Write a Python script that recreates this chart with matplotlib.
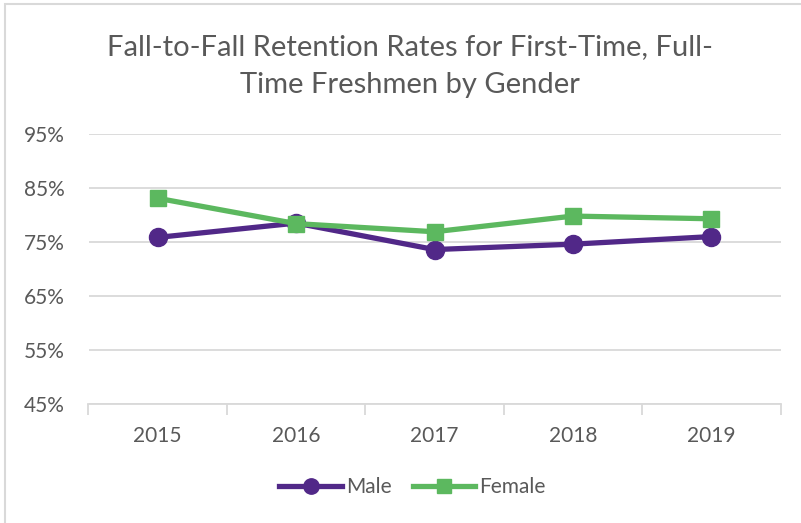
import matplotlib
matplotlib.use('Agg')
import matplotlib.pyplot as plt
from matplotlib.patches import Rectangle
from matplotlib.ticker import FixedLocator, FuncFormatter

years = ['2015', '2016', '2017', '2018', '2019']
male = [75.85, 78.5, 73.6, 74.6, 76.0]
female = [83.1, 78.4, 76.9, 79.8, 79.3]
y_ticks = [45, 55, 65, 75, 85, 95]

plt.rcParams['font.family'] = ['Lato', 'DejaVu Sans']
text_color = '#595959'

fig = plt.figure(figsize=(8.01, 5.23), dpi=100)
ax = fig.add_axes([88.5 / 801, 1 - 404 / 523, (780.5 - 88.5) / 801, 270 / 523])

# chart border
fig.patches.append(Rectangle((5 / 801, -0.1), 1.2, 1 - 4 / 523 + 0.1, transform=fig.transFigure,
                             fill=False, edgecolor='#d9d9d9', linewidth=1.5))

x = list(range(len(years)))
ax.plot(x, male, color='#512888', linewidth=3.8, marker='o', markersize=13, label='Male', zorder=3)
ax.plot(x, female, color='#5cb85f', linewidth=3.8, marker='s', markersize=11.5, label='Female', zorder=4)

ax.set_xlim(-0.5, 4.5)
ax.set_ylim(45, 95)
ax.set_yticks(y_ticks)
ax.yaxis.set_major_formatter(FuncFormatter(lambda v, p: '%d%%' % v))
ax.set_xticks(x)
ax.set_xticklabels(years)
ax.xaxis.set_minor_locator(FixedLocator([-0.5, 0.5, 1.5, 2.5, 3.5, 4.5]))

ax.grid(axis='y', color='#d9d9d9', linewidth=1.3)
ax.set_axisbelow(True)
for s in ['top', 'right', 'left']:
    ax.spines[s].set_visible(False)
ax.spines['bottom'].set_color('#d9d9d9')
ax.spines['bottom'].set_linewidth(1.3)

ax.tick_params(axis='y', length=0, pad=17, labelsize=15, labelcolor=text_color)
ax.tick_params(axis='x', which='major', length=0, pad=16, labelsize=15, labelcolor=text_color)
ax.tick_params(axis='x', which='minor', length=8, width=1.3, color='#d9d9d9')

fig.text(0.512, 1 - 66 / 523, 'Fall-to-Fall Retention Rates for First-Time, Full-\nTime Freshmen by Gender',
         ha='center', va='center', fontsize=21, color=text_color, linespacing=1.55)

fig.legend(loc='center', bbox_to_anchor=(0.515, 1 - 487 / 523), ncol=2, frameon=False,
           fontsize=15, labelcolor=text_color, handlelength=3.0, handletextpad=0.2,
           columnspacing=1.0, markerscale=0.85)

fig.savefig('out.png', dpi=100)
